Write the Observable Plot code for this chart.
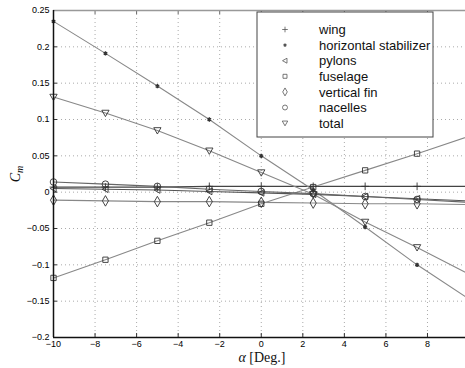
<!DOCTYPE html>
<html><head><meta charset="utf-8">
<script src="https://cdn.jsdelivr.net/npm/d3@7"></script>
<script src="https://cdn.jsdelivr.net/npm/@observablehq/plot@0.6"></script>
<style>body{margin:0;background:#fff}#c{position:relative;width:465px;height:368px;overflow:hidden}</style>
</head><body><div id="c"></div>
<script>
// Data
const alpha = [-10, -7.5, -5, -2.5, 0, 2.5, 5, 7.5];
const alphaEnd = 10; // lines continue (without markers) to the plot edge
const wing       = [0.007, 0.007, 0.007, 0.008, 0.008, 0.008, 0.008, 0.008];
const horizStab  = [0.235, 0.191, 0.146, 0.100, 0.050, 0.003, -0.048, -0.100];
const pylons     = [0.005, 0.004, 0.003, 0.001, -0.001, -0.003, -0.006, -0.009];
const fuselage   = [-0.118, -0.093, -0.067, -0.042, -0.016, 0.007, 0.030, 0.053];
const verticalFin= [-0.011, -0.012, -0.013, -0.013, -0.014, -0.015, -0.016, -0.016];
const nacelles   = [0.014, 0.011, 0.008, 0.004, 0.001, -0.002, -0.006, -0.010];
const total      = [0.131, 0.109, 0.085, 0.057, 0.027, -0.003, -0.041, -0.076];
const endValues  = {wing: 0.008, horizStab: -0.147, pylons: -0.012, fuselage: 0.077, verticalFin: -0.017, nacelles: -0.014, total: -0.113};
const names = ["wing", "horizontal stabilizer", "pylons", "fuselage", "vertical fin", "nacelles", "total"];
const xTicks = [-10, -8, -6, -4, -2, 0, 2, 4, 6, 8];
const yTicks = [-0.2, -0.15, -0.1, -0.05, 0, 0.05, 0.1, 0.15, 0.2, 0.25];

const triLeft = {draw(ctx, size) { const r = Math.sqrt(size / Math.PI) * 1.1; ctx.moveTo(-r, 0); ctx.lineTo(r * 0.8, -r); ctx.lineTo(r * 0.8, r); ctx.closePath(); }};
const triDown = {draw(ctx, size) { const r = Math.sqrt(size / Math.PI) * 1.1; ctx.moveTo(0, r); ctx.lineTo(-r, -r * 0.75); ctx.lineTo(r, -r * 0.75); ctx.closePath(); }};

const series = [
  {name: names[0], vals: wing, end: endValues.wing, symbol: "plus", r: 2.6, line: "#444"},
  {name: names[1], vals: horizStab, end: endValues.horizStab, symbol: "asterisk", r: 2.0, line: "#888"},
  {name: names[2], vals: pylons, end: endValues.pylons, symbol: triLeft, r: 3.0, line: "#555"},
  {name: names[3], vals: fuselage, end: endValues.fuselage, symbol: "square", r: 3.0, line: "#888"},
  {name: names[4], vals: verticalFin, end: endValues.verticalFin, symbol: "diamond", r: 3.2, line: "#888"},
  {name: names[5], vals: nacelles, end: endValues.nacelles, symbol: "circle", r: 3.3, line: "#666"},
  {name: names[6], vals: total, end: endValues.total, symbol: triDown, r: 3.3, line: "#888"}
];

const W = 465, H = 368, mL = 53, mR = 0, mT = 10, mB = 31;
const frameH = H - mT - mB, frameW = W - mL - mR;
const fmt = d => d === 0 ? "0" : (d < 0 ? "\u2212" : "") + String(+Math.abs(d).toFixed(2));

const marks = [
  Plot.ruleX(xTicks, {stroke: "#aaa", strokeDasharray: "1,3"}),
  Plot.ruleY(yTicks, {stroke: "#aaa", strokeDasharray: "1,3"}),
  Plot.tickX(xTicks, {x: d => d, insetTop: frameH - 4, stroke: "#333"}),
  Plot.tickX(xTicks, {x: d => d, insetBottom: frameH - 4, stroke: "#666"}),
  Plot.tickY(yTicks, {y: d => d, insetRight: frameW - 4, stroke: "#333"})
];
for (const s of series) {
  const lineData = alpha.map((a, i) => ({a, v: s.vals[i]})).concat([{a: alphaEnd, v: s.end}]);
  marks.push(Plot.line(lineData, {x: "a", y: "v", stroke: s.line, strokeWidth: 1.1, clip: true}));
}
for (const s of series) {
  const dotData = alpha.map((a, i) => ({a, v: s.vals[i]}));
  marks.push(Plot.dot(dotData, {x: "a", y: "v", symbol: s.symbol, r: s.r, fill: "none", stroke: "#333", strokeWidth: s.symbol === "asterisk" ? 1.4 : 0.9}));
}
marks.push(
  Plot.ruleY([0.25], {stroke: "#999", strokeWidth: 1.5}),
  Plot.ruleX([-10], {stroke: "#111", strokeWidth: 1.5}),
  Plot.ruleY([-0.2], {stroke: "#111", strokeWidth: 1.5})
);

const chart = Plot.plot({
  width: W, height: H,
  marginLeft: mL, marginRight: mR, marginTop: mT, marginBottom: mB,
  style: {fontFamily: "'Liberation Sans', Arial, sans-serif", fontSize: "9px", color: "#000", background: "#fff"},
  x: {domain: [-10, 9.83], ticks: xTicks, tickFormat: fmt, tickSize: 0, tickPadding: 3, label: null},
  y: {domain: [-0.2, 0.25], ticks: yTicks, tickFormat: fmt, tickSize: 0, tickPadding: 4, label: null},
  marks
});
document.getElementById("c").appendChild(chart);

// Axis labels
const svg = d3.select(chart);
const yl = svg.append("text")
  .attr("transform", "translate(20,174) rotate(-90)")
  .attr("text-anchor", "middle")
  .style("font-family", "'Liberation Serif', 'DejaVu Serif', serif")
  .style("font-size", "14px").style("font-style", "italic").attr("fill", "#111");
yl.append("tspan").text("C");
yl.append("tspan").attr("dy", "3").style("font-size", "10px").text("m");

const xl = svg.append("text")
  .attr("x", 262).attr("y", 362)
  .attr("text-anchor", "middle")
  .style("font-family", "'Liberation Serif', 'DejaVu Serif', serif")
  .style("font-size", "14px").attr("fill", "#111");
xl.append("tspan").style("font-style", "italic").text("\u03b1");
xl.append("tspan").text(" [Deg.]");

// Legend
const lg = svg.append("g").attr("transform", "translate(257,12)");
lg.append("rect").attr("width", 176).attr("height", 125).attr("fill", "#fff").attr("stroke", "#444").attr("stroke-width", 1);
const symMap = {plus: d3.symbolPlus, asterisk: d3.symbolAsterisk, square: d3.symbolSquare, diamond: d3.symbolDiamond, circle: d3.symbolCircle};
series.forEach((s, i) => {
  const y = 17.5 + i * 15.6;
  const sym = typeof s.symbol === "string" ? symMap[s.symbol] : s.symbol;
  const rr = s.r * 0.75;
  lg.append("path").attr("transform", `translate(28,${y})`)
    .attr("d", d3.symbol(sym, Math.PI * rr * rr)())
    .attr("fill", "none").attr("stroke", "#555").attr("stroke-width", s.symbol === "asterisk" ? 1.3 : 0.8);
  lg.append("text").attr("x", 62).attr("y", y).attr("dy", "0.36em")
    .attr("text-anchor", "start")
    .style("font-family", "'Liberation Sans', Arial, sans-serif").style("font-size", "13px")
    .attr("fill", "#111").text(s.name);
});
</script></body></html>
